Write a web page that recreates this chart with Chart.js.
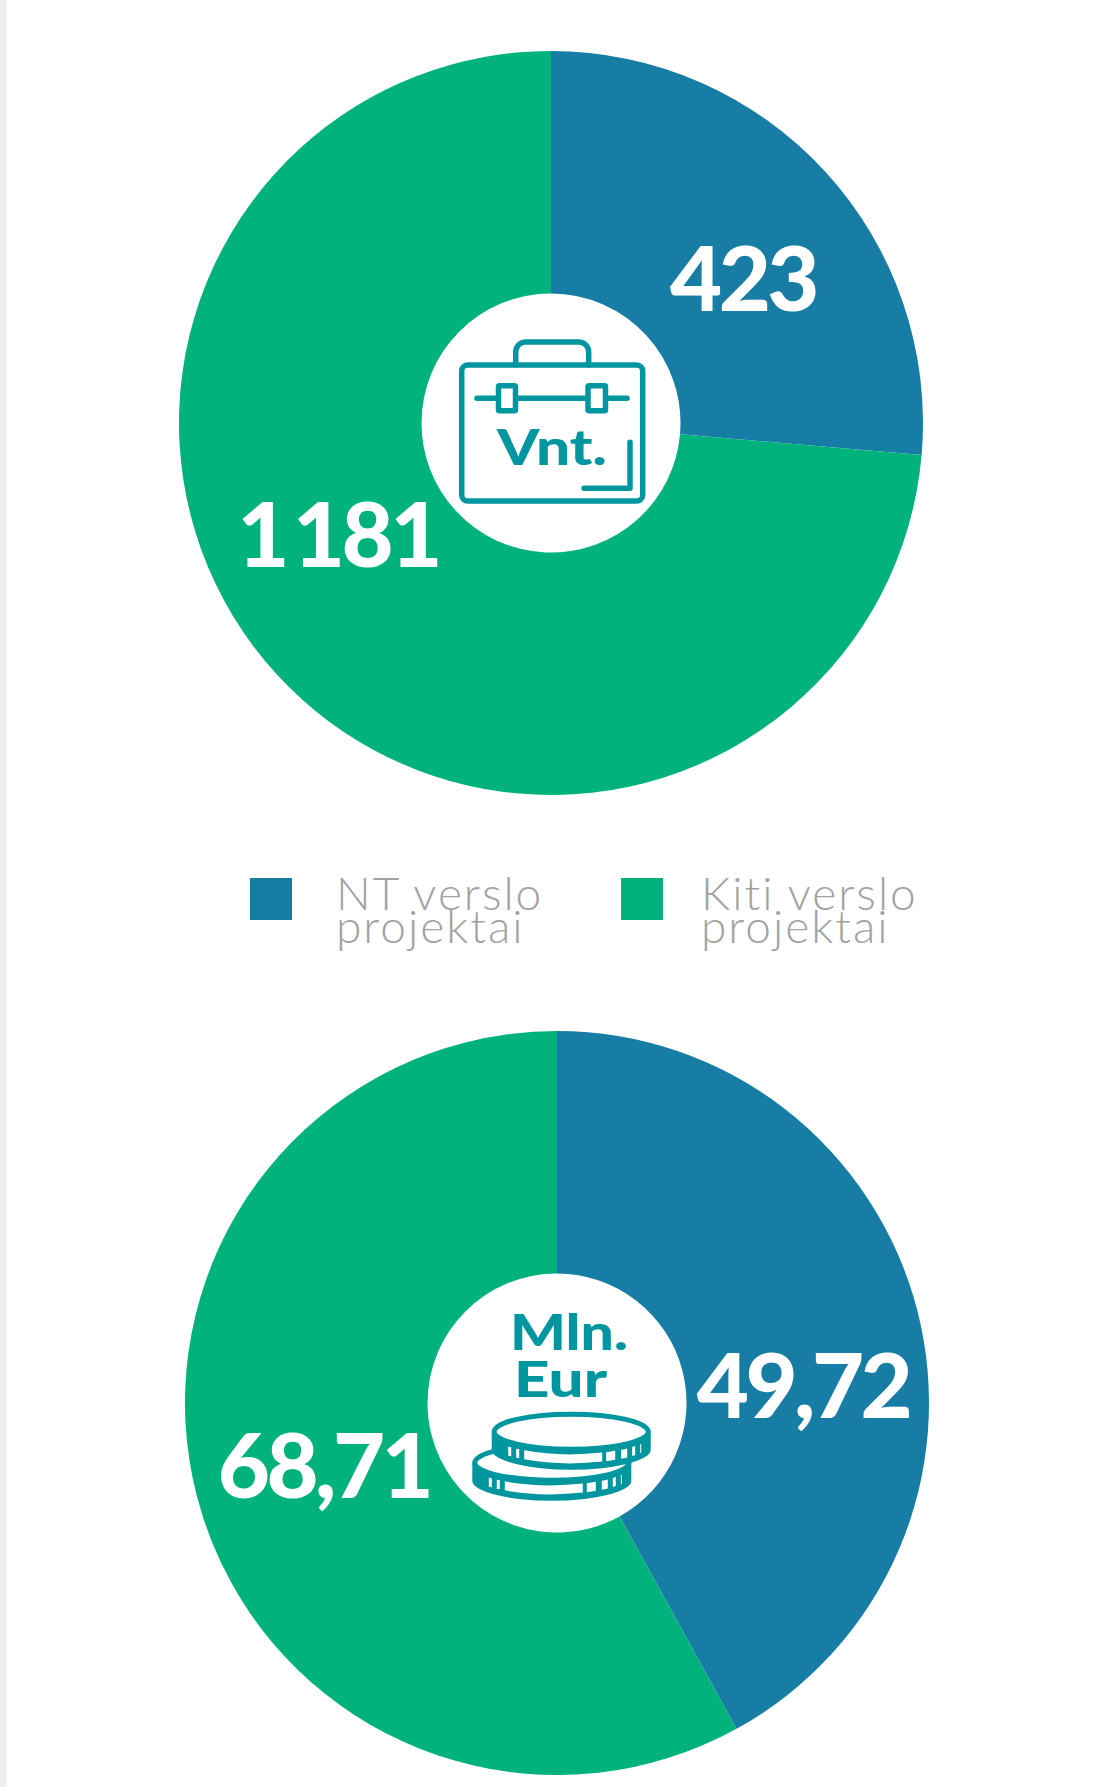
<!DOCTYPE html>
<html>
<head>
<meta charset="utf-8">
<title>NT verslo projektai</title>
<script src="https://cdn.jsdelivr.net/npm/chart.js@4"></script>
<style>
  html, body { margin: 0; padding: 0; background: #fff; }
  #page { position: relative; width: 1103px; height: 1787px; overflow: hidden; font-family: Lato, sans-serif; }
  #edge { position: absolute; left: 0; top: 0; width: 7px; height: 1787px; background: #eeeeee; }
  canvas { position: absolute; }
  #chartCount { left: 179px; top: 51px; }
  #chartValue { left: 185px; top: 1031px; }
  svg { position: absolute; left: 0; top: 0; }
  .swatch { position: absolute; top: 878px; width: 42px; height: 42px; }
  .legendText { position: absolute; top: 876px; color: #a2a2a2; font-size: 46px; font-weight: 300; line-height: 33px; letter-spacing: 2px; }
</style>
</head>
<body>
<div id="page">
  <div id="edge"></div>
  <canvas id="chartCount" width="744" height="744"></canvas>
  <canvas id="chartValue" width="744" height="744"></canvas>
  <div id="legend"></div>
  <svg id="icons" width="1103" height="1787" font-family="Lato, sans-serif" font-weight="900" fill="#0096a0">
    <g fill="none" stroke="#0096a0" stroke-width="5.5" stroke-linecap="round" stroke-linejoin="round">
      <path d="M515.7 365V352a10 10 0 0 1 10-10h53a10 10 0 0 1 10 10v13"/>
      <rect x="461.7" y="365" width="181" height="136" rx="6"/>
      <path d="M477 398.3H627"/>
      <rect x="498.5" y="385.7" width="17" height="25" rx="1" fill="#fff"/>
      <rect x="588" y="385.7" width="17.5" height="25" rx="1" fill="#fff"/>
      <path d="M630 442.3V488.3H584"/>
    </g>
    <text x="497" y="465" font-size="50" textLength="110" lengthAdjust="spacingAndGlyphs">Vnt.</text>
    <text x="510" y="1350" font-size="50" textLength="118" lengthAdjust="spacingAndGlyphs">Mln.</text>
    <text x="514" y="1396.7" font-size="50" textLength="93" lengthAdjust="spacingAndGlyphs">Eur</text>
    <g id="coinLower"></g>
    <g id="coinUpper"></g>
  </svg>
</div>
<script>
const categories = ['NT verslo projektai', 'Kiti verslo projektai'];
const countValues = [423, 1181];
const countLabels = ['423', '1 181'];
const moneyValues = [49.72, 68.71];
const moneyLabels = ['49,72', '68,71'];

const BLUE = '#177da5';
const GREEN = '#02b27c';
const colors = [BLUE, GREEN];

// value label placement, offset from the pie centre (centre x, baseline y)
const countLabelOffsets = [[192, -112], [-213, 144]];
const moneyLabelOffsets = [[246, 15], [-233, 95]];

const valueLabels = {
  id: 'valueLabels',
  afterDatasetsDraw(chart, args, opts) {
    const ctx = chart.ctx;
    const arc = chart.getDatasetMeta(0).data[0];
    ctx.save();
    ctx.fillStyle = '#fff';
    ctx.font = '900 90px Lato, sans-serif';
    ctx.textAlign = 'center';
    ctx.textBaseline = 'alphabetic';
    ctx.letterSpacing = '-3.5px';
    ctx.wordSpacing = '-11px';
    opts.texts.forEach((t, i) => {
      ctx.fillText(t, arc.x + opts.offsets[i][0], arc.y + opts.offsets[i][1]);
    });
    ctx.restore();
  }
};

function makePie(id, values, texts, offsets) {
  return new Chart(document.getElementById(id), {
    type: 'doughnut',
    data: {
      labels: categories,
      datasets: [{ data: values, backgroundColor: colors, borderWidth: 0 }]
    },
    options: {
      responsive: false,
      animation: false,
      cutout: 129.5,
      plugins: {
        legend: { display: false },
        tooltip: { enabled: false },
        valueLabels: { texts: texts, offsets: offsets }
      }
    },
    plugins: [valueLabels]
  });
}

makePie('chartCount', countValues, countLabels, countLabelOffsets);
makePie('chartValue', moneyValues, moneyLabels, moneyLabelOffsets);

// legend
const legend = document.getElementById('legend');
const swatchLeft = [250, 621];
const textLeft = [336, 701];
categories.forEach((c, i) => {
  const sw = document.createElement('div');
  sw.className = 'swatch';
  sw.style.left = swatchLeft[i] + 'px';
  sw.style.background = colors[i];
  legend.appendChild(sw);
  const tx = document.createElement('div');
  tx.className = 'legendText';
  tx.style.left = textLeft[i] + 'px';
  const words = c.split(' ');
  tx.innerHTML = words[0] + ' ' + words[1] + '<br>' + words[2];
  legend.appendChild(tx);
});

// coin icon
const TEAL = '#0096a0';
const stripes = [[-63, -60], [-55, -52], [-47, 31], [35, 44], [50, 56], [61, 64], [69, 70]];
function drawCoin(id, cx, cy) {
  const edgeY = x => 7 + 20 * Math.sqrt(1 - (x / 79.5) * (x / 79.5));
  let html = '<path d="M-79.5 0V18A79.5 20 0 0 0 79.5 18V0Z" fill="' + TEAL + '"/>' +
    '<ellipse rx="77" ry="17.5" fill="#fff" stroke="' + TEAL + '" stroke-width="5"/>';
  stripes.forEach(s => {
    const a = edgeY(s[0]), b = edgeY(s[1]);
    html += '<path d="M' + s[0] + ' ' + (a - 4.5) + 'A79.5 20 0 0 0 ' + s[1] + ' ' + (b - 4.5) +
      'V' + (b + 4.5) + 'A79.5 20 0 0 1 ' + s[0] + ' ' + (a + 4.5) + 'Z" fill="#fff"/>';
  });
  const g = document.getElementById(id);
  g.setAttribute('transform', 'translate(' + cx + ' ' + cy + ')');
  g.innerHTML = html;
}
drawCoin('coinLower', 551.8, 1462.7);
drawCoin('coinUpper', 571.2, 1431.7);
</script>
</body>
</html>
